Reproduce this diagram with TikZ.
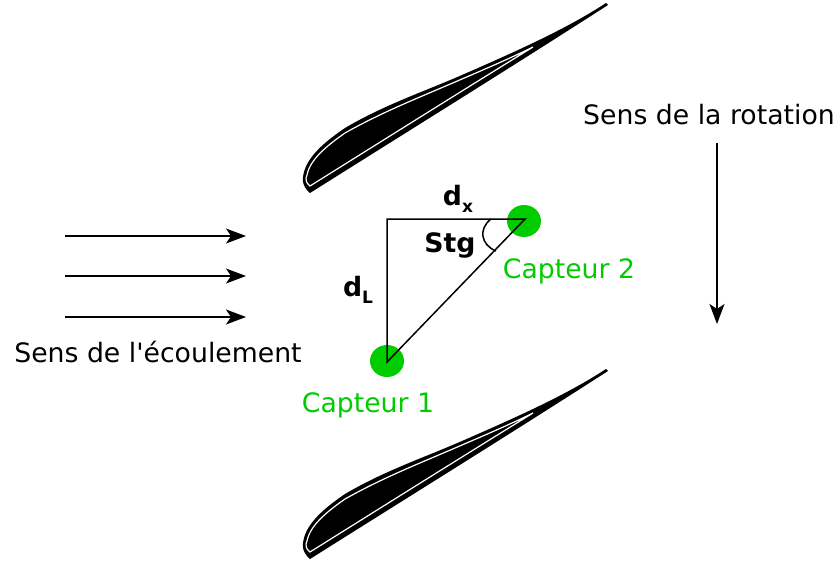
\documentclass[tikz,border=0pt]{standalone}
\usepackage{fontspec}
\newfontfamily\dejavu{DejaVu Sans}
\usetikzlibrary{positioning, arrows.meta, shapes.geometric}
\definecolor{capteurgreen}{RGB}{0,204,0}
\newcommand{\dlabel}[1]{\bfseries d\raisebox{-.25em}{\fontsize{17}{17}\selectfont #1}}
\tikzset{
  blade/.pic={
    \fill[black, line join=round] (310,193) .. controls (304,188) and (302,182) .. (303,177)
      .. controls (305,160) and (320,145) .. (345,128)
      .. controls (384,105) and (423,92) .. (462,75)
      .. controls (510,54) and (565,30) .. (606,3) -- (608,5)
      .. controls (510,68) and (410,130) .. cycle;
    \draw[white, fill=black, line width=1.2pt] (310,186) .. controls (306,183) and (305,179) .. (307,175)
      .. controls (310,160) and (325,147) .. (345,133)
      .. controls (384,111) and (423,96) .. (462,79)
      .. controls (490,67) and (515,56) .. (533,47)
      .. controls (460,92) and (390,136) .. cycle;
  },
}
\begin{document}
\begin{tikzpicture}[
x=1pt, y=-1pt,
every node/.style={
    font=\dejavu\fontsize{26.7}{32}\selectfont,
    inner sep=0pt,
    },
capteur/.style={
    ellipse, fill=capteurgreen, minimum width=34pt, minimum height=32pt,
    },
capteurtext/.style={
    text=capteurgreen,
    },
flow/.style={
    draw,
    line width=1.5pt,
    -{Stealth[length=20pt, width=15pt, inset=5pt]},
    },
leg/.style={
    draw,
    line width=1.5pt,
    line join=miter,
    },
]
\useasboundingbox (0,0) rectangle (840,562);
\pic {blade};
\pic[yshift=-366pt] {blade};
% the two sensors
\node[capteur] (C1) at (387,361) {};
\node[capteur] (C2) at (524,221) {};
\node[capteurtext] (T1) at (368,405) {Capteur 1};
\node[capteurtext] (T2) at (569,271) {Capteur 2};
% triangle
\coordinate (P1) at (387,362);
\coordinate (P2) at (525,219);
\coordinate (P3) at (387,219);
\draw[leg] (P1) -- (P3) -- (P2) -- cycle;
\coordinate (S1) at (491,219);
\coordinate (S2) at (496,251);
\draw[leg] (S1) .. controls (478,229) and (481,245) .. (S2);
\node (dx) at (458,199) {\dlabel{x}};
\node (dl) at (358,290) {\dlabel{L}};
\node (stg) at (450,245) {\bfseries Stg};
% flow
\foreach \name/\y in {a/236,b/276,c/317}{
  \coordinate (F\name) at (65,\y);
  \coordinate (G\name) at (246,\y);
  \draw[flow] (F\name) -- (G\name);
}
\node (flowtext) at (158,352) {Sens de l'écoulement};
% rotation
\node (rottext) at (709,115) {Sens de la rotation};
\coordinate (R1) at (717,143);
\coordinate (R2) at (717,324);
\draw[flow] (R1) -- (R2);
\end{tikzpicture}
\end{document}
